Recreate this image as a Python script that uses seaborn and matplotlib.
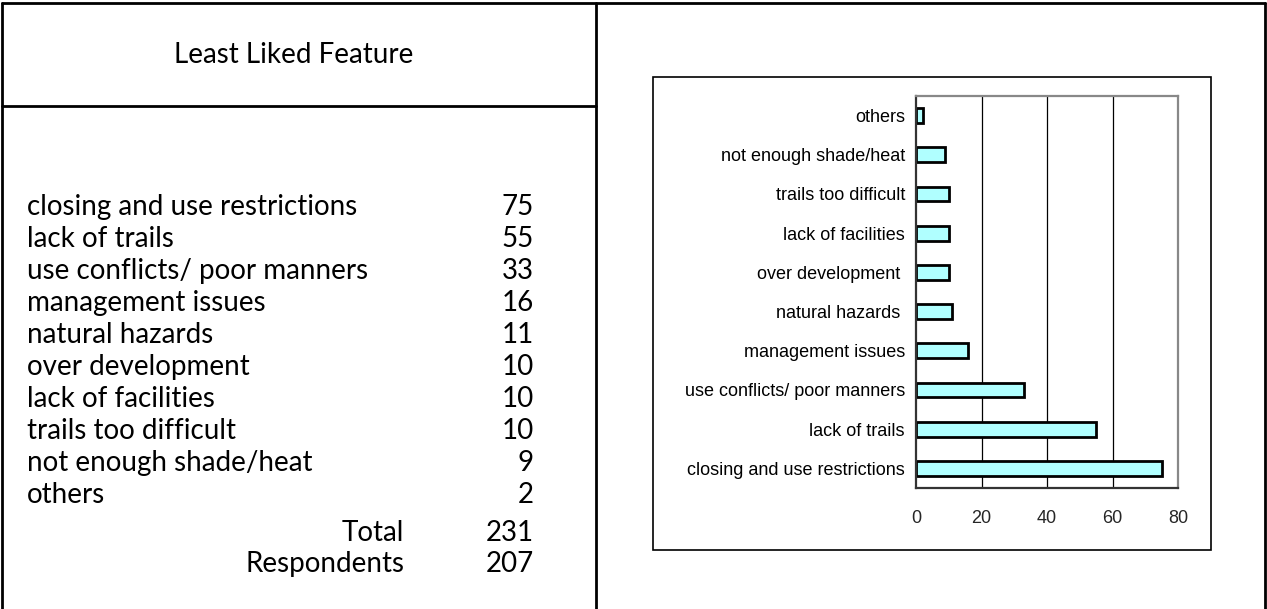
import matplotlib
matplotlib.use("Agg")
import matplotlib.pyplot as plt
from matplotlib.patches import Rectangle
from matplotlib.lines import Line2D
import seaborn as sns
import pandas as pd

# ---- data ----
features = ["closing and use restrictions", "lack of trails", "use conflicts/ poor manners",
            "management issues", "natural hazards", "over development", "lack of facilities",
            "trails too difficult", "not enough shade/heat", "others"]
counts = [75, 55, 33, 16, 11, 10, 10, 10, 9, 2]
chart_labels = ["closing and use restrictions", "lack of trails", "use conflicts/ poor manners",
                "management issues", "natural hazards ", "over development ", "lack of facilities",
                "trails too difficult", "not enough shade/heat", "others"]
total_label = "Total"
total_value = 231
resp_label = "Respondents"
resp_value = 207
title = "Least Liked Feature"
xticks = [0, 20, 40, 60, 80]

sns.set_theme(style="white")
plt.rcParams['font.family'] = ['Liberation Sans', 'DejaVu Sans']

W, H = 1267, 609
fig = plt.figure(figsize=(W / 100, H / 100), dpi=100)

def fx(x):
    return x / W

def fy(y):
    return 1 - y / H

# ---- table frame ----
lw = 2.0
for (x0, y0, x1, y1) in [(2, 3, 1265, 3), (2, 3, 2, 609), (596, 3, 596, 609),
                         (1265, 3, 1265, 609), (2, 106, 596, 106)]:
    fig.add_artist(Line2D([fx(x0), fx(x1)], [fy(y0), fy(y1)], color="black", lw=lw,
                          transform=fig.transFigure))

# ---- left text ----
tfont = dict(family=['Lato', 'DejaVu Sans'], fontweight='normal', color='black')
fs = 20
fig.text(fx(294), fy(55), title, ha='center', va='center', fontsize=fs, **tfont)
y0 = 215
step = 32
for i, (f, c) in enumerate(zip(features, counts)):
    y = y0 + i * step
    fig.text(fx(27), fy(y), f, ha='left', va='baseline', fontsize=fs, **tfont)
    fig.text(fx(534), fy(y), str(c), ha='right', va='baseline', fontsize=fs, **tfont)
y = y0 + (len(features) - 1) * step + 38
fig.text(fx(404), fy(y), total_label, ha='right', va='baseline', fontsize=fs, **tfont)
fig.text(fx(534), fy(y), str(total_value), ha='right', va='baseline', fontsize=fs, **tfont)
y += 31
fig.text(fx(404), fy(y), resp_label, ha='right', va='baseline', fontsize=fs, **tfont)
fig.text(fx(534), fy(y), str(resp_value), ha='right', va='baseline', fontsize=fs, **tfont)

# ---- chart box ----
fig.add_artist(Rectangle((fx(653), fy(550)), fx(1211) - fx(653), fy(77) - fy(550),
                         transform=fig.transFigure, fill=False, edgecolor='black', lw=1.2))

# ---- bar chart ----
ax = fig.add_axes([fx(916), fy(488), fx(1178) - fx(916), fy(96) - fy(488)])
df = pd.DataFrame({"label": chart_labels[::-1], "count": counts[::-1]})
sns.barplot(data=df, y="label", x="count", orient='h', ax=ax, color="#B0FFFF",
            saturation=1, width=0.38, edgecolor='black', linewidth=2)
ax.set_xlim(0, 80)
ax.set_ylim(len(df) - 0.5, -0.5)
ax.set_xticks(xticks)
ax.set_xticklabels([str(t) for t in xticks], fontsize=13)
ax.set_xlabel("")
ax.set_ylabel("")
ax.set_yticks(range(len(df)))
ax.set_yticklabels(df["label"], fontsize=13, color='black')
ax.tick_params(axis='y', which='major', length=0, pad=8)
# category boundary ticks
ax.set_yticks([i - 0.5 for i in range(len(df) + 1)], minor=True)
ax.tick_params(axis='y', which='minor', length=5, width=1, color='#333333', direction='out')
ax.tick_params(axis='x', length=7, width=1, color='#333333', direction='inout', pad=12)
for xv in xticks[1:-1]:
    ax.axvline(xv, color='black', lw=0.9, zorder=0)
ax.spines['left'].set_color('#333333')
ax.spines['bottom'].set_color('#333333')
ax.spines['top'].set_color('#888888')
ax.spines['right'].set_color('#888888')
for s in ax.spines.values():
    s.set_linewidth(1.6)
    s.set_visible(True)
ax.set_facecolor('white')

fig.savefig("out.png", dpi=100, facecolor='white')
